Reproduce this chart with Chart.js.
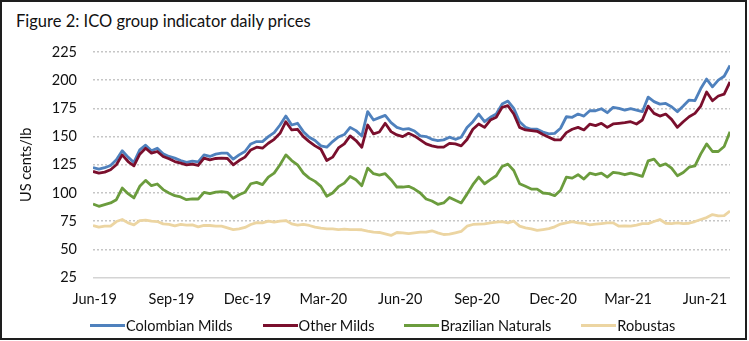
<!DOCTYPE html>
<html>
<head>
<meta charset="utf-8">
<title>ICO group indicator daily prices</title>
<script src="https://cdn.jsdelivr.net/npm/chart.js@4/dist/chart.umd.min.js"></script>
<style>
    html, body { margin: 0; padding: 0; background: #fff; }
    body { width: 749px; height: 341px; position: relative; overflow: hidden; font-family: Lato, sans-serif; }
    .frame { position: absolute; left: 0; top: 0; width: 747px; height: 340px; box-sizing: border-box; border: 2px solid #1e1e1e; }
    .fig-title { position: absolute; left: 16px; top: 11px; font-size: 16.5px; line-height: 20px; color: #111; white-space: nowrap; }
    #chart-wrap { position: absolute; left: 0; top: 0; width: 749px; height: 341px; }
    #legend { position: absolute; left: 90px; top: 316px; height: 18px; display: flex; align-items: center; }
    .legend-item { display: flex; align-items: center; margin-right: 30px; font-size: 14.5px; color: #111; white-space: nowrap; }
    .legend-line { width: 35px; height: 3px; margin-right: 1px; }
</style>
</head>
<body>
<div class="frame"></div>
<div class="fig-title">Figure 2: ICO group indicator daily prices</div>
<div id="chart-wrap"><canvas id="priceChart"></canvas></div>
<div id="legend"></div>

<script>
// Weekly samples, day 0 = 30 May 2019
const STEP_DAYS = 7;

const seriesNames = ['Colombian Milds', 'Other Milds', 'Brazilian Naturals', 'Robustas'];
const seriesColors = ['#4f81bd', '#7a0f2d', '#6b9c3d', '#ecd5a2'];

const tickLabels = ['Jun-19', 'Sep-19', 'Dec-19', 'Mar-20', 'Jun-20', 'Sep-20', 'Dec-20', 'Mar-21', 'Jun-21'];
const tickDays = [2, 94, 185, 276, 368, 460, 551, 641, 733];

// US cents/lb
const colombianMilds = [
    122.6, 121.2, 122.4, 124.4, 129.4, 137.4, 131.8, 127.1, 138.2, 142.4,
    137.4, 139.7, 134.7, 132.4, 130.9, 128.8, 127.1, 128.2, 127.6, 133.8,
    132.4, 134.5, 135.3, 135.3, 130.0, 133.8, 136.8, 143.5, 145.6, 145.6,
    150.0, 153.5, 160.3, 168.2, 160.3, 161.8, 154.4, 149.4, 146.5, 141.8,
    140.6, 145.6, 149.7, 151.8, 158.2, 155.3, 150.6, 172.1, 164.7, 166.8,
    168.8, 162.4, 158.2, 156.5, 157.1, 155.0, 150.6, 150.0, 147.6, 146.5,
    147.1, 149.5, 147.6, 149.4, 158.0, 163.2, 170.0, 163.2, 167.1, 170.0,
    178.8, 181.5, 175.0, 163.2, 158.2, 156.5, 156.5, 154.1, 152.4, 152.9,
    157.4, 167.6, 167.1, 170.0, 168.2, 173.0, 172.9, 174.7, 171.2, 175.9,
    175.0, 173.5, 174.7, 173.5, 172.1, 185.0, 181.0, 178.8, 179.4, 176.5,
    172.1, 177.1, 182.4, 181.8, 192.6, 201.0, 194.1, 200.0, 203.5, 213.0
];
const otherMilds = [
    119.1, 117.6, 118.5, 120.6, 125.0, 133.8, 127.9, 124.1, 134.4, 139.7,
    135.3, 136.8, 132.4, 130.3, 127.9, 126.5, 125.0, 125.6, 124.4, 130.9,
    129.4, 130.6, 130.9, 130.6, 125.0, 128.8, 131.8, 138.2, 140.6, 139.7,
    144.1, 147.6, 152.9, 163.2, 155.9, 156.5, 150.0, 145.6, 141.8, 138.8,
    128.8, 131.8, 140.0, 143.5, 150.6, 146.5, 140.6, 160.3, 152.4, 154.1,
    161.8, 154.4, 151.5, 150.0, 152.9, 150.6, 147.1, 143.5, 141.8, 140.6,
    140.6, 144.0, 143.5, 141.8, 147.4, 156.5, 161.2, 158.2, 164.7, 167.1,
    175.9, 177.4, 170.0, 158.2, 155.9, 155.3, 154.7, 151.8, 149.4, 147.1,
    147.1, 153.5, 156.5, 158.2, 155.9, 161.0, 159.7, 161.8, 158.2, 161.2,
    161.8, 162.4, 163.2, 161.2, 164.7, 177.0, 170.6, 168.2, 170.0, 165.3,
    158.2, 163.2, 167.6, 170.6, 177.1, 189.5, 181.8, 186.0, 187.6, 198.5
];
const brazilianNaturals = [
    90.3, 88.2, 89.7, 91.2, 94.1, 104.4, 99.4, 95.6, 105.9, 111.2,
    106.5, 108.0, 103.0, 100.0, 97.6, 96.5, 94.1, 94.7, 94.7, 100.6,
    99.4, 100.8, 101.2, 100.6, 95.3, 98.5, 100.6, 108.2, 109.4, 107.4,
    114.1, 117.6, 125.0, 133.8, 128.8, 125.0, 117.6, 113.2, 110.3, 105.9,
    97.1, 100.0, 105.6, 108.8, 114.7, 111.8, 106.5, 122.1, 117.1, 115.9,
    117.1, 111.8, 105.3, 105.3, 105.9, 103.5, 100.0, 94.7, 92.9, 90.0,
    91.2, 96.0, 93.5, 91.2, 99.0, 107.4, 114.1, 108.2, 111.8, 115.3,
    123.5, 125.6, 120.0, 108.2, 105.9, 103.5, 103.5, 100.0, 99.4, 97.6,
    102.4, 114.1, 113.2, 116.2, 112.4, 117.6, 116.2, 117.6, 114.1, 118.2,
    117.6, 116.2, 117.6, 116.2, 114.7, 128.5, 130.0, 124.1, 125.9, 122.1,
    115.3, 118.2, 122.9, 124.1, 134.7, 143.5, 136.8, 136.8, 141.2, 154.4
];
const robustas = [
    71.2, 69.7, 70.6, 70.6, 74.7, 76.5, 73.5, 71.8, 75.6, 75.9,
    75.0, 74.7, 72.6, 72.1, 70.9, 72.1, 71.5, 71.8, 70.0, 71.2,
    71.2, 70.6, 70.6, 69.1, 67.6, 68.2, 69.5, 72.1, 73.8, 73.5,
    75.0, 74.1, 75.0, 75.6, 72.6, 71.5, 72.1, 71.2, 69.7, 68.8,
    68.2, 68.2, 67.6, 67.9, 67.6, 67.6, 67.4, 66.2, 65.3, 65.0,
    63.8, 62.4, 65.0, 64.7, 64.0, 64.7, 65.3, 65.3, 66.5, 64.7,
    63.2, 63.5, 64.7, 65.9, 70.6, 72.1, 72.4, 72.6, 73.5, 74.1,
    74.7, 73.5, 75.0, 70.6, 69.1, 68.2, 66.8, 67.6, 68.5, 70.0,
    72.5, 73.6, 74.7, 73.5, 73.2, 71.8, 72.4, 72.9, 73.5, 73.5,
    70.6, 70.9, 70.6, 71.5, 72.9, 72.9, 74.7, 76.5, 73.2, 72.9,
    73.5, 72.9, 73.2, 74.7, 76.5, 78.2, 80.9, 79.7, 80.0, 84.0
];

const seriesValues = [colombianMilds, otherMilds, brazilianNaturals, robustas];
const lastDay = (colombianMilds.length - 1) * STEP_DAYS;

const toPoints = values => values.map((v, i) => ({ x: i * STEP_DAYS, y: v }));

const FONT = 'Lato, sans-serif';

const chart = new Chart(document.getElementById('priceChart'), {
    type: 'line',
    data: {
        datasets: seriesNames.map((name, i) => ({
            label: name,
            data: toPoints(seriesValues[i]),
            borderColor: seriesColors[i],
            backgroundColor: seriesColors[i],
            borderWidth: 2.8,
            pointRadius: 0,
            tension: 0,
            borderJoinStyle: 'round',
            order: seriesNames.length - i // later series drawn on top
        }))
    },
    options: {
        responsive: true,
        maintainAspectRatio: false,
        animation: false,
        layout: { padding: { left: 12, right: 19, top: 52, bottom: 20 } },
        plugins: {
            legend: { display: false },
            tooltip: { enabled: false }
        },
        scales: {
            x: {
                type: 'linear',
                min: 0,
                max: lastDay,
                afterBuildTicks: axis => {
                    axis.ticks = tickDays.map(d => ({ value: d }));
                },
                ticks: {
                    autoSkip: false,
                    maxRotation: 0,
                    padding: 13,
                    color: '#111',
                    font: { family: FONT, size: 14.5 },
                    callback: (value) => tickLabels[tickDays.indexOf(value)]
                },
                grid: { display: false, drawTicks: false },
                border: { display: false }
            },
            y: {
                min: 25,
                max: 225,
                afterFit: axis => { axis.width = 93 - 12; },
                ticks: {
                    stepSize: 25,
                    padding: 16,
                    color: '#111',
                    font: { family: FONT, size: 14.5 }
                },
                grid: {
                    drawTicks: false,
                    lineWidth: 1.5,
                    color: ctx => (ctx.tick && ctx.tick.value === 25) ? '#d4d4d4' : '#c6c6c6'
                },
                border: {
                    display: false,
                    dash: ctx => (ctx.tick && ctx.tick.value === 25) ? [] : [2, 2]
                },
                title: {
                    display: true,
                    text: 'US cents/lb',
                    color: '#111',
                    padding: { top: 6, bottom: 0 },
                    font: { family: FONT, size: 14.5 }
                }
            }
        }
    }
});

// HTML legend from the chart's own legend items, in series order
const legendEl = document.getElementById('legend');
Chart.defaults.plugins.legend.labels.generateLabels(chart)
    .sort((a, b) => a.datasetIndex - b.datasetIndex)
    .forEach(item => {
        const row = document.createElement('div');
        row.className = 'legend-item';
        const line = document.createElement('span');
        line.className = 'legend-line';
        line.style.background = item.strokeStyle;
        row.appendChild(line);
        row.appendChild(document.createTextNode(item.text));
        legendEl.appendChild(row);
    });
</script>
</body>
</html>
